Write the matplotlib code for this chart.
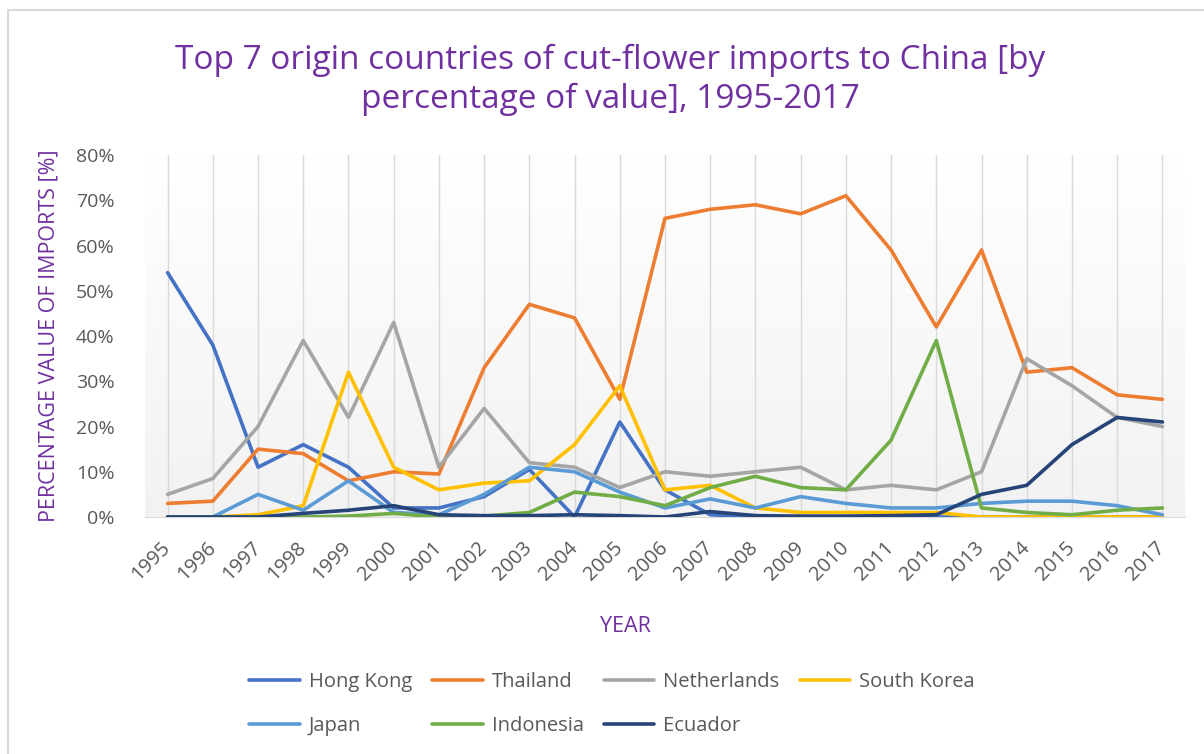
import matplotlib
matplotlib.use("Agg")
import matplotlib.pyplot as plt
import numpy as np
from matplotlib.colors import LinearSegmentedColormap
from matplotlib.patches import Rectangle
from matplotlib.ticker import PercentFormatter

plt.rcParams['font.family'] = ['Open Sans', 'DejaVu Sans']

# --- data (percent of import value) ---
years = list(range(1995, 2018))
hong_kong = [54, 38, 11, 16, 11, 2, 2, 4.5, 10.5, 0, 21, 6, 0.5, 0, 0, 0, 0, 0, 0, 0, 0, 0, 0]
thailand = [3, 3.5, 15, 14, 8, 10, 9.5, 33, 47, 44, 26, 66, 68, 69, 67, 71, 59, 42, 59, 32, 33, 27, 26]
netherlands = [5, 8.5, 20, 39, 22, 43, 11, 24, 12, 11, 6.5, 10, 9, 10, 11, 6, 7, 6, 10, 35, 29, 22, 20]
south_korea = [0, 0, 0.5, 2.5, 32, 11, 6, 7.5, 8, 16, 29, 6, 7, 2, 1, 1, 1, 1, 0, 0, 0, 0, 0]
japan = [0, 0, 5, 1.5, 8, 1, 0.5, 5, 11, 10, 5.5, 2, 4, 2, 4.5, 3, 2, 2, 3, 3.5, 3.5, 2.5, 0.5]
indonesia = [0, 0, 0, 0, 0.2, 0.8, 0, 0.2, 1, 5.5, 4.5, 2.5, 6.5, 9, 6.5, 6, 17, 39, 2, 1, 0.5, 1.5, 2]
ecuador = [0, 0, 0, 0.8, 1.5, 2.5, 0.5, 0.3, 0.3, 0.5, 0.3, 0, 1.2, 0.3, 0.2, 0.2, 0.3, 0.5, 5, 7, 16, 22, 21]

series = [
    ('Hong Kong', hong_kong, '#4472C4'),
    ('Thailand', thailand, '#ED7D31'),
    ('Netherlands', netherlands, '#A5A5A5'),
    ('South Korea', south_korea, '#FFC000'),
    ('Japan', japan, '#5B9BD5'),
    ('Indonesia', indonesia, '#70AD47'),
    ('Ecuador', ecuador, '#264478'),
]

purple = '#7030A0'
grey_text = '#595959'

fig = plt.figure(figsize=(12.04, 7.54), dpi=100)
ax = fig.add_axes([145 / 1204, 1 - 517 / 754, 1040 / 1204, 362 / 754])

# chart-area border (only top and left fall inside the picture)
fig.patches.append(Rectangle((8 / 1204, -0.1), 1.2, 1 - 10 / 754 + 0.1,
                             transform=fig.transFigure, fill=False,
                             edgecolor='#d9d9d9', linewidth=1.5))

# plot-area gradient, white at the top to light grey at the bottom
grad = np.linspace(1, 0, 256).reshape(-1, 1)
cmap = LinearSegmentedColormap.from_list('bg', ['#f2f2f2', '#ffffff'])
ax.imshow(grad, extent=[0, 1, 0, 1], transform=ax.transAxes, cmap=cmap,
          aspect='auto', zorder=0, vmin=0, vmax=1)

handles = {}
for name, vals, color in series:
    line, = ax.plot(years, vals, color=color, linewidth=2.6, label=name,
                    solid_joinstyle='round', solid_capstyle='round', zorder=3)
    handles[name] = line

ax.set_xlim(1994.5, 2017.5)
ax.set_ylim(0, 80)
ax.set_xticks(years)
ax.set_xticklabels([str(y) for y in years], rotation=45, ha='right', va='center',
                   rotation_mode='anchor', fontsize=14.5, color=grey_text)
ax.set_yticks(range(0, 81, 10))
ax.yaxis.set_major_formatter(PercentFormatter(decimals=0))
ax.tick_params(axis='y', length=0, labelsize=14, labelcolor=grey_text, pad=22)
ax.tick_params(axis='x', length=0, pad=20)
ax.grid(axis='x', color='#d9d9d9', linewidth=1, zorder=1)
for side in ['top', 'right', 'left']:
    ax.spines[side].set_visible(False)
ax.spines['bottom'].set_color('#d9d9d9')
ax.set_axisbelow(True)

ax.set_ylabel('PERCENTAGE VALUE OF IMPORTS [%]', color=purple, fontsize=15.5, labelpad=12)
ax.set_xlabel('YEAR', color=purple, fontsize=15.5, va='center')
ax.xaxis.set_label_coords((625 - 145) / 1040, -110 / 362)

fig.text(0.507, 1 - 80 / 754, 'Top 7 origin countries of cut-flower imports to China [by\n'
         'percentage of value], 1995-2017', ha='center', va='center',
         color=purple, fontsize=24, linespacing=1.25)

# legend fills column by column, so order entries to read row by row
legend_order = ['Hong Kong', 'Japan', 'Thailand', 'Indonesia', 'Netherlands', 'Ecuador', 'South Korea']
fig.legend([handles[n] for n in legend_order], legend_order,
           loc='center', bbox_to_anchor=(612 / 1204, 1 - 704 / 754), ncol=4, frameon=False,
           fontsize=14.5, labelcolor=grey_text, handlelength=2.5, handletextpad=0.45,
           columnspacing=1.0, labelspacing=1.2)

fig.savefig('out.png', dpi=100)
